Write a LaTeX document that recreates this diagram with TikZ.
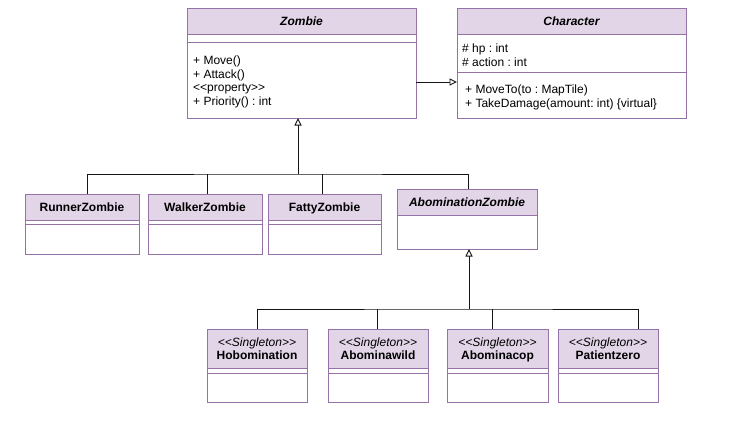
\documentclass[tikz,border=0pt]{standalone}
\usepackage{fontspec}
\setmainfont{Liberation Sans}
\usetikzlibrary{arrows.meta}
\definecolor{cfill}{HTML}{E1D5E7}
\definecolor{cline}{HTML}{9673A6}
\definecolor{conncol}{HTML}{141414}
\frenchspacing
\tikzset{
  cbox/.style={draw=cline, line width=0.9pt, inner sep=0pt, outer sep=0pt},
  cborder/.style={draw=cline, line width=0.9pt},
  ttl/.style={inner sep=0pt, text height=8.6pt, text depth=0pt, font=\fontsize{12}{14}\selectfont\bfseries},
  ster/.style={inner sep=0pt, text height=8.6pt, text depth=0pt, font=\fontsize{12}{14}\selectfont\itshape},
  member/.style={inner sep=0pt, anchor=base west, font=\fontsize{12}{14}\selectfont},
  conn/.style={draw=conncol, line width=0.9pt},
  gen/.style={conn, -{Triangle[open, length=7.5pt, width=7pt, fill=white]}}
}
\newcommand\ubox[6]{%
  \fill[cfill] (#2,#3) rectangle (#4,#6);
  \node[cbox, anchor=north west, minimum width={(#4)-(#2)}, minimum height={(#5)-(#3)}] (#1) at (#2,#3) {};
  \draw[cborder] (#2,#6) -- (#4,#6);}
\begin{document}
\begin{tikzpicture}[x=1pt, y=-1pt]
\fill[white] (0,0) rectangle (734,421);
\useasboundingbox (0,0) rectangle (734,421);

% Zombie
\ubox{zombie}{187}{8}{416}{118}{34}
\draw[cborder] (187,42) -- (416,42);
\node[ttl, font=\fontsize{12}{14}\selectfont\bfseries\itshape] (zombieT) at (301.5,21) {Zombie};
\node[member] (zm1) at (193,64.5) {+ Move()};
\node[member] (zm2) at (193,78) {+ Attack()};
\node[member] (zm3) at (193,91.5) {<{}<property>{}>};
\node[member] (zm4) at (193,105.5) {+ Priority() : int};

% Character
\ubox{character}{457}{8}{686}{118}{34}
\draw[cborder] (457,72) -- (686,72);
\node[ttl, font=\fontsize{12}{14}\selectfont\bfseries\itshape] (characterT) at (571.5,21) {Character};
\node[member] (ca1) at (462,52) {\# hp : int};
\node[member] (ca2) at (462,66) {\# action : int};
\node[member] (cm1) at (465,93.5) {+ MoveTo(to : MapTile)};
\node[member] (cm2) at (465,107) {+ TakeDamage(amount: int) \{virtual\}};

% Row 2
\ubox{runner}{25}{194}{139}{254}{220}
\draw[cborder] (25,224) -- (139,224);
\node[ttl] (runnerT) at (82,207) {RunnerZombie};
\ubox{walker}{148}{194}{262}{254}{220}
\draw[cborder] (148,224) -- (262,224);
\node[ttl] (walkerT) at (205,207) {WalkerZombie};
\ubox{fatty}{268}{194}{381}{254}{220}
\draw[cborder] (268,224) -- (381,224);
\node[ttl] (fattyT) at (324.5,207) {FattyZombie};
\ubox{abom}{397}{189}{537}{249}{215}
\node[ttl, font=\fontsize{12}{14}\selectfont\bfseries\itshape] (abomT) at (467,202) {AbominationZombie};

% Row 3
\ubox{hobo}{207}{329}{307}{402}{368.5}
\draw[cborder] (207,373) -- (307,373);
\node[ster] (hoboS) at (257,341.7) {<{}<Singleton>{}>};
\node[ttl] (hoboT) at (257,355) {Hobomination};
\ubox{wild}{328}{329}{428}{402}{368.5}
\draw[cborder] (328,373) -- (428,373);
\node[ster] (wildS) at (378,341.7) {<{}<Singleton>{}>};
\node[ttl] (wildT) at (378,355) {Abominawild};
\ubox{cop}{447}{329}{548}{402}{368.5}
\draw[cborder] (447,373) -- (548,373);
\node[ster] (copS) at (497.5,341.7) {<{}<Singleton>{}>};
\node[ttl] (copT) at (497.5,355) {Abominacop};
\ubox{patient}{558}{329}{658}{402}{368.5}
\draw[cborder] (558,373) -- (658,373);
\node[ster] (patientS) at (608,341.7) {<{}<Singleton>{}>};
\node[ttl] (patientT) at (608,355) {Patientzero};

% Connectors
\draw[gen] ([yshift=-19pt]zombie.east) -- ([yshift=-19pt]zombie.east -| character.west);

\coordinate (j1) at (298,174);
\draw[gen] (j1) -- (j1 |- zombie.south);
\draw[conn] ([xshift=5.3pt]runner.north) |- (j1) -| ([xshift=1pt]abom.north);
\draw[conn] ([xshift=2.3pt]walker.north) -- ([xshift=2.3pt]walker.north |- j1);
\draw[conn] ([xshift=-1.8pt]fatty.north) -- ([xshift=-1.8pt]fatty.north |- j1);

\coordinate (j2) at (469,309);
\draw[gen] (j2) -- (j2 |- abom.south);
\draw[conn] ([xshift=0.3pt]hobo.north) |- (j2) -| ([xshift=30.3pt]patient.north);
\draw[conn] ([xshift=-0.7pt]wild.north) -- ([xshift=-0.7pt]wild.north |- j2);
\draw[conn] ([xshift=-5.2pt]cop.north) -- ([xshift=-5.2pt]cop.north |- j2);
\end{tikzpicture}
\end{document}
